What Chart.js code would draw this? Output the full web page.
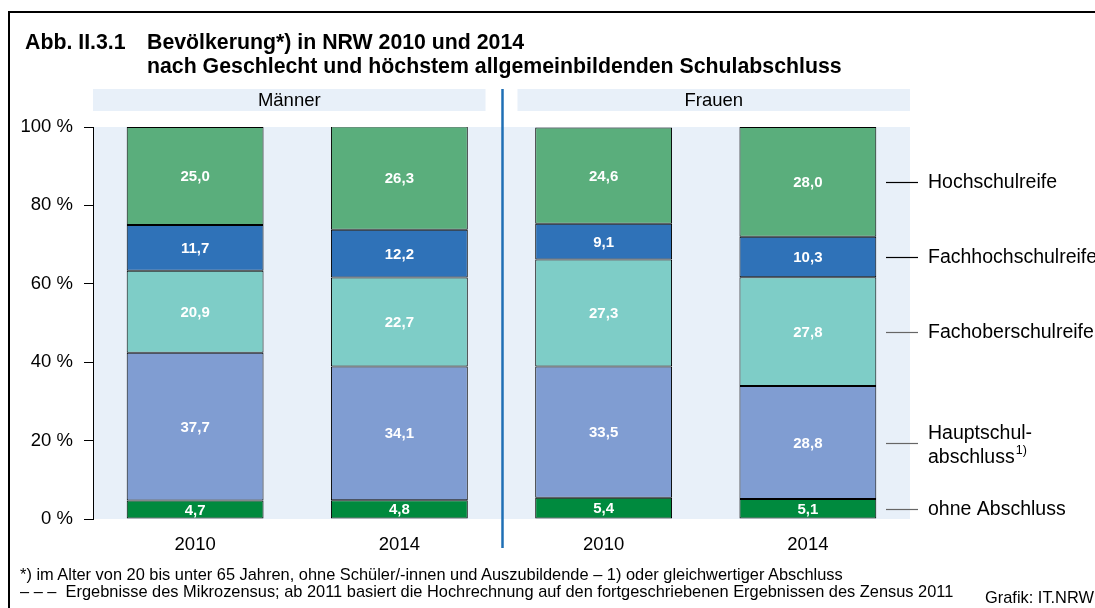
<!DOCTYPE html>
<html><head><meta charset="utf-8">
<script src="https://cdn.jsdelivr.net/npm/chart.js@4.4.0/dist/chart.umd.min.js"></script>
<style>
html,body{margin:0;padding:0;background:#fff;width:1095px;height:608px;overflow:hidden;font-family:Arial,"Liberation Sans",sans-serif;}
#frame{position:absolute;left:8px;top:11px;width:1200px;height:700px;border:2px solid #000;}
.t{position:absolute;white-space:nowrap;color:#000;font-family:Arial,"Liberation Sans",sans-serif;}
.title{font-weight:bold;font-size:21.3px;line-height:24px;}
.note{font-size:16.4px;line-height:17px;}
</style></head><body>
<div id="frame"></div>
<canvas id="c" width="1095" height="608" style="position:absolute;left:0;top:0"></canvas>
<div class="t title" style="left:25px;top:30px">Abb. II.3.1</div>
<div class="t title" style="left:147px;top:30px">Bevölkerung*) in NRW 2010 und 2014</div>
<div class="t title" style="left:147px;top:54px">nach Geschlecht und höchstem allgemeinbildenden Schulabschluss</div>
<div class="t note" style="left:20px;top:566px">*) im Alter von 20 bis unter 65 Jahren, ohne Schüler/-innen und Auszubildende – 1) oder gleichwertiger Abschluss</div>
<div class="t note" style="left:20px;top:583px">– – –&nbsp;&nbsp;Ergebnisse des Mikrozensus; ab 2011 basiert die Hochrechnung auf den fortgeschriebenen Ergebnissen des Zensus 2011</div>
<div class="t note" style="left:985px;top:589px">Grafik: IT.NRW</div>
<script>
const categories = ['2010', '2014', '2010', '2014'];
const groups = ['Männer', 'Frauen'];
const seriesNames = ['ohne Abschluss', 'Hauptschulabschluss', 'Fachoberschulreife', 'Fachhochschulreife', 'Hochschulreife'];
const ohneAbschluss = [4.7, 4.8, 5.4, 5.1];
const hauptschulabschluss = [37.7, 34.1, 33.5, 28.8];
const fachoberschulreife = [20.9, 22.7, 27.3, 27.8];
const fachhochschulreife = [11.7, 12.2, 9.1, 10.3];
const hochschulreife = [25.0, 26.3, 24.6, 28.0];
const yTicks = [0, 20, 40, 60, 80, 100];
const seriesColors = ['#008a3e', '#809dd2', '#7ecdc7', '#2f72b8', '#5aae7c'];
const sideLabels = [['ohne Abschluss'], ['Hauptschul-', 'abschluss'], ['Fachoberschulreife'], ['Fachhochschulreife'], ['Hochschulreife']];
const sideLineColors = ['#666', '#666', '#666', '#000', '#000'];

const seriesValues = [ohneAbschluss, hauptschulabschluss, fachoberschulreife, fachhochschulreife, hochschulreife];
const FONT = 'Arial, "Liberation Sans", sans-serif';

const decor = {
  id: 'decor',
  beforeDatasetsDraw(chart) {
    const {ctx, chartArea: a} = chart;
    ctx.save();
    ctx.fillStyle = '#e8f0f9';
    ctx.fillRect(a.left + 1, a.top, a.right - a.left - 1, a.bottom - a.top);
    ctx.restore();
  },
  afterDraw(chart) {
    const {ctx, chartArea: a} = chart;
    const cw = (a.right - a.left) / categories.length;
    const mid = a.left + cw * 2;
    ctx.save();
    groups.forEach((g, i) => {
      let l = a.left + i * 2 * cw, r = l + 2 * cw;
      if (i === 0) r -= 16; else l += 16;
      ctx.fillStyle = '#e8f0f9';
      ctx.fillRect(l, a.top - 38, r - l, 22);
      ctx.fillStyle = '#000';
      ctx.font = '18.5px ' + FONT;
      ctx.textAlign = 'center';
      ctx.textBaseline = 'middle';
      ctx.fillText(g, (l + r) / 2, a.top - 26);
    });
    ctx.strokeStyle = '#1f6fb5';
    ctx.lineWidth = 2.5;
    ctx.beginPath();
    ctx.moveTo(mid + 1, a.top - 38);
    ctx.lineTo(mid + 1, a.bottom + 29);
    ctx.stroke();
    ctx.fillStyle = '#fff';
    ctx.font = 'bold 15px ' + FONT;
    ctx.textAlign = 'center';
    ctx.textBaseline = 'middle';
    chart.data.datasets.forEach((ds, di) => {
      chart.getDatasetMeta(di).data.forEach((el, i) => {
        const v = ds.data[i];
        ctx.fillText(v.toFixed(1).replace('.', ','), el.x, (el.y + el.base) / 2 + 1);
      });
    });
    const last = categories.length - 1;
    const sideFont = '19.5px ' + FONT;
    ctx.fillStyle = '#000';
    ctx.font = sideFont;
    ctx.textAlign = 'left';
    chart.data.datasets.forEach((ds, di) => {
      const el = chart.getDatasetMeta(di).data[last];
      const y = Math.round((el.y + el.base) / 2) + 0.5;
      ctx.strokeStyle = sideLineColors[di];
      ctx.lineWidth = 1.2;
      ctx.beginPath();
      ctx.moveTo(a.right - 24, y);
      ctx.lineTo(a.right + 8, y);
      ctx.stroke();
      const lines = sideLabels[di];
      if (lines.length === 1) {
        ctx.fillText(lines[0], a.right + 18, y);
      } else {
        ctx.fillText(lines[0], a.right + 18, y - 10);
        ctx.fillText(lines[1], a.right + 18, y + 14);
        const w = ctx.measureText(lines[1]).width;
        ctx.font = '12.5px ' + FONT;
        ctx.fillText('1)', a.right + 19 + w, y + 7);
        ctx.font = sideFont;
      }
    });
    ctx.restore();
  }
};

new Chart(document.getElementById('c'), {
  type: 'bar',
  data: {
    labels: categories,
    datasets: seriesValues.map((vals, i) => ({
      label: seriesNames[i],
      data: vals,
      backgroundColor: seriesColors[i],
      borderColor: '#000',
      borderWidth: 1,
      borderSkipped: false,
      barPercentage: 0.67,
      categoryPercentage: 1.0
    }))
  },
  options: {
    responsive: false,
    animation: false,
    devicePixelRatio: 1,
    layout: {padding: {top: 127, right: 185, left: 0, bottom: 0}},
    plugins: {legend: {display: false}, tooltip: {enabled: false}},
    scales: {
      x: {
        stacked: true,
        grid: {display: false, drawTicks: false},
        border: {display: false},
        ticks: {color: '#000', font: {size: 18.5, family: FONT}, padding: 15},
        afterFit(s) { s.height = 89; }
      },
      y: {
        stacked: true,
        min: 0, max: 100,
        afterBuildTicks(s) { s.ticks = yTicks.map(v => ({value: v})); },
        grid: {drawOnChartArea: false, drawTicks: true, tickLength: 9, color: '#000', lineWidth: 1},
        border: {display: true, color: '#000', width: 1},
        ticks: {color: '#000', font: {size: 18.5, family: FONT}, padding: 11, callback: v => v + ' %'},
        afterFit(s) { s.width = 93; }
      }
    }
  },
  plugins: [decor]
});
</script>
</body></html>
